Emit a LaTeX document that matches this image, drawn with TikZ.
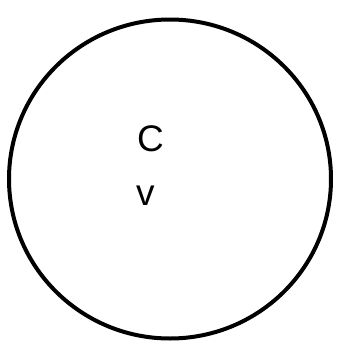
\documentclass[tikz,border=0pt]{standalone}
\usepackage{fontspec}
\setmainfont{Liberation Sans}
\usetikzlibrary{shapes.geometric}

\begin{document}
\begin{tikzpicture}[
    x=1pt, y=-1pt,
    cell/.style={ellipse, draw, line width=4pt, inner sep=0pt, minimum width=322pt, minimum height=319pt},
    letter/.style={anchor=base west, inner sep=0pt, font=\fontsize{37}{44}\selectfont}
]
\useasboundingbox (0,0) rectangle (357,341);

% the circle
\node[cell] (circ) at (170,179) {};

% letters inside
\node[letter] (lblC) at (137,151) {C};
\node[letter] (lblv) at (136,205) {v};

\end{tikzpicture}
\end{document}
